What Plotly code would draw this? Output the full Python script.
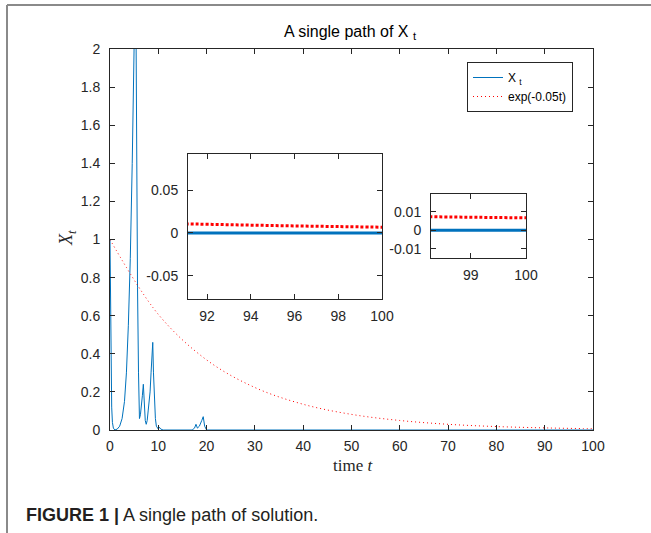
import plotly.graph_objects as go

# ---- data ----
t_path = [0, 0.1, 0.2, 0.35, 0.5, 0.7, 1.0, 1.5, 2.0, 2.5, 3.0, 3.4, 3.8, 4.2, 4.6, 4.9,
          5.1, 5.3, 5.4, 5.5, 5.7, 5.9, 6.1, 6.3, 6.5, 6.7, 6.9, 7.1, 7.3, 7.5, 7.7, 7.9,
          8.1, 8.3, 8.5, 8.7, 8.85, 9.0, 9.2, 9.4, 9.6, 9.8, 10.0, 10.2, 10.5, 11.0, 12.0,
          14.0, 16.0, 17.0, 17.5, 17.8, 18.1, 18.5, 19.0, 19.3, 19.6, 20.0, 20.5, 30, 40,
          50, 60, 70, 80, 90, 100]
x_path = [1.0, 0.6, 0.3, 0.12, 0.04, 0.01, 0.0, 0.005, 0.02, 0.06, 0.15, 0.3, 0.55, 0.9, 1.4, 1.9,
          2.3, 2.5, 2.05, 1.4, 0.75, 0.3, 0.06, 0.08, 0.12, 0.18, 0.24, 0.12, 0.05, 0.03, 0.05, 0.1,
          0.15, 0.2, 0.3, 0.4, 0.46, 0.3, 0.15, 0.06, 0.02, 0.01, 0.005, 0.015, 0.005, 0.0, 0.0,
          0.0, 0.0, 0.0, 0.01, 0.03, 0.01, 0.02, 0.05, 0.07, 0.02, 0.0, 0.0, 0.0, 0.0,
          0.0, 0.0, 0.0, 0.0, 0.0, 0.0]

t_exp = [0, 10, 20, 30, 40, 50, 60, 70, 80, 90, 92, 94, 96, 98, 100]
x_exp = [1.0, 0.607, 0.368, 0.223, 0.135, 0.082, 0.050, 0.030, 0.018, 0.0111,
         0.0101, 0.0091, 0.0082, 0.0074, 0.0067]

x_ticks_main = [0, 10, 20, 30, 40, 50, 60, 70, 80, 90, 100]
y_ticks_main = [0, 0.2, 0.4, 0.6, 0.8, 1, 1.2, 1.4, 1.6, 1.8, 2]
y_ticklabels_main = ["0", "0.2", "0.4", "0.6", "0.8", "1", "1.2", "1.4", "1.6", "1.8", "2"]
x_ticks_in1 = [92, 94, 96, 98, 100]
y_ticks_in1 = [-0.05, 0, 0.05]
y_ticklabels_in1 = ["-0.05", "0", "0.05"]
x_ticks_in2 = [99, 100]
y_ticks_in2 = [-0.01, 0, 0.01]
y_ticklabels_in2 = ["-0.01", "0", "0.01"]

BLUE = "#0072BD"
RED = "#FF0000"
AX = "#262626"
FONT = "Liberation Sans, Arial, sans-serif"
SERIF = "Liberation Serif, Times New Roman, serif"
W, H = 651, 533

def px_x(a, b):
    return [a / W, b / W]

def px_y(top, bottom):
    return [1 - bottom / H, 1 - top / H]

fig = go.Figure()

# main
fig.add_trace(go.Scatter(x=t_path, y=x_path, mode="lines", name="X <sub>t</sub>",
                         line=dict(color=BLUE, width=1), xaxis="x", yaxis="y"))
fig.add_trace(go.Scatter(x=t_exp, y=x_exp, mode="lines", name="exp(-0.05t)",
                         line=dict(color=RED, width=1, dash="1px,3px", shape="spline"),
                         xaxis="x", yaxis="y"))
# inset 1
fig.add_trace(go.Scatter(x=t_path, y=x_path, mode="lines", showlegend=False,
                         line=dict(color=BLUE, width=3), xaxis="x2", yaxis="y2"))
fig.add_trace(go.Scatter(x=t_exp, y=x_exp, mode="lines", showlegend=False,
                         line=dict(color=RED, width=3, dash="3px,2px", shape="spline"),
                         xaxis="x2", yaxis="y2"))
# inset 2
fig.add_trace(go.Scatter(x=t_path, y=x_path, mode="lines", showlegend=False,
                         line=dict(color=BLUE, width=3), xaxis="x3", yaxis="y3"))
fig.add_trace(go.Scatter(x=t_exp, y=x_exp, mode="lines", showlegend=False,
                         line=dict(color=RED, width=3, dash="3px,2px", shape="spline"),
                         xaxis="x3", yaxis="y3"))

def axis(domain, anchor, rng, tickvals, ticktext=None, standoff=6):
    d = dict(domain=domain, anchor=anchor, range=rng, tickvals=tickvals,
             ticks="inside", ticklen=5, tickcolor=AX, tickwidth=1,
             showline=True, linecolor=AX, linewidth=1, mirror="allticks",
             showgrid=False, zeroline=False, fixedrange=True, automargin=False,
             ticklabelstandoff=standoff,
             tickfont=dict(family=FONT, size=14, color=AX))
    if ticktext is not None:
        d["ticktext"] = ticktext
    return d

fig.update_layout(
    width=W, height=H,
    margin=dict(l=0, r=0, t=0, b=0, pad=0, autoexpand=False),
    paper_bgcolor="white", plot_bgcolor="white",
    xaxis=axis(px_x(110, 593), "y", [0, 100], x_ticks_main, standoff=3),
    yaxis=axis(px_y(49, 430), "x", [0, 2], y_ticks_main, y_ticklabels_main),
    xaxis2=axis(px_x(188, 382), "y2", [91.13, 100], x_ticks_in1, standoff=4),
    yaxis2=axis(px_y(154, 299), "x2", [-0.077, 0.092], y_ticks_in1, y_ticklabels_in1),
    xaxis3=axis(px_x(431, 526), "y3", [98.28, 100], x_ticks_in2, standoff=4),
    yaxis3=axis(px_y(194, 258), "x3", [-0.015, 0.0196], y_ticks_in2, y_ticklabels_in2),
    showlegend=True,
    legend=dict(x=467 / W, y=1 - 62 / H, xanchor="left", yanchor="top",
                bgcolor="white", bordercolor=AX, borderwidth=1,
                font=dict(family=FONT, size=12, color="black"),
                itemwidth=30, tracegroupgap=0),
    title=dict(text="A single path of X <sub>t</sub>", x=350 / W, xanchor="center",
               y=1 - 31 / H, yanchor="middle",
               font=dict(family=FONT, size=16, color="black")),
    annotations=[
        dict(text="<i>X<sub>t</sub></i>", xref="paper", yref="paper",
             x=68 / W, y=1 - 238 / H, xanchor="center", yanchor="middle",
             showarrow=False, textangle=-90,
             font=dict(family=SERIF, size=18, color=AX)),
        dict(text="time <i>t</i>", xref="paper", yref="paper",
             x=353 / W, y=1 - 465 / H, xanchor="center", yanchor="middle", showarrow=False,
             font=dict(family=SERIF, size=17, color=AX)),
        dict(text="<b>FIGURE 1 |</b> A single path of solution.", xref="paper", yref="paper",
             x=24 / W, y=1 - 515 / H, xanchor="left", yanchor="middle", showarrow=False,
             font=dict(family=FONT, size=18, color="#231F20")),
    ],
    shapes=[
        dict(type="line", xref="paper", yref="paper", x0=7 / W, x1=1, y0=1 - 5 / H, y1=1 - 5 / H,
             line=dict(color="#8a8a8a", width=2)),
        dict(type="line", xref="paper", yref="paper", x0=7 / W, x1=7 / W, y0=0, y1=1 - 5 / H,
             line=dict(color="#8a8a8a", width=2)),
    ],
)

fig.write_html("out.html", config={"displayModeBar": False},
               post_script="document.body.style.margin='0px';document.body.style.overflow='hidden';")
